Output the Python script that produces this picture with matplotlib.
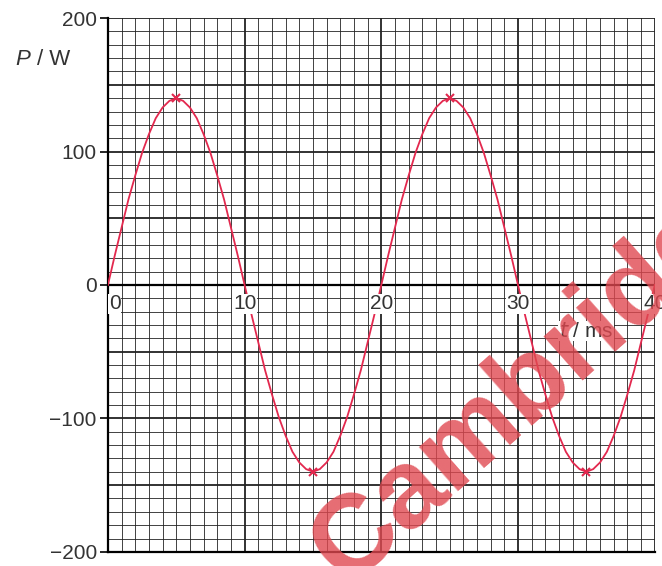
import matplotlib.pyplot as plt
import numpy as np

plt.rcParams['font.family'] = ['Liberation Sans', 'DejaVu Sans']

# data (t in ms, P in W), every 0.5 ms
t_ms = np.arange(0, 40.5, 0.5)
p_w = [0, 22, 43, 64, 82, 99, 113, 125, 133, 138, 140, 138, 133, 125, 113, 99, 82, 64, 43, 22,
       0, -22, -43, -64, -82, -99, -113, -125, -133, -138, -140, -138, -133, -125, -113, -99, -82, -64, -43, -22,
       0, 22, 43, 64, 82, 99, 113, 125, 133, 138, 140, 138, 133, 125, 113, 99, 82, 64, 43, 22,
       0, -22, -43, -64, -82, -99, -113, -125, -133, -138, -140, -138, -133, -125, -113, -99, -82, -64, -43, -22,
       0]
peak_t = [5, 15, 25, 35]
peak_p = [140, -140, 140, -140]
x_ticks = [0, 10, 20, 30, 40]
y_ticks = [200, 100, 0, -100, -200]

fig = plt.figure(figsize=(6.62, 5.66), dpi=100)
ax = fig.add_axes([0.163, 0.025, 0.826, 0.943])
ax.set_xlim(0, 40)
ax.set_ylim(-200, 200)

# graph paper
for x in range(0, 41):
    lw = 1.3 if x % 10 == 0 else 0.6
    ax.axvline(x, color='#222222', lw=lw, zorder=1)
for y in range(-200, 201, 10):
    lw = 1.3 if y % 50 == 0 else 0.6
    ax.axhline(y, color='#222222', lw=lw, zorder=1)
ax.axhline(0, color='black', lw=1.6, zorder=2)

# curve
ax.plot(t_ms, p_w, color='#e3284e', lw=1.3, zorder=4)
ax.plot(peak_t, peak_p, 'x', color='#e3284e', ms=6, mew=1.5, zorder=5)

for s in ['top', 'right']:
    ax.spines[s].set_visible(False)
ax.spines['left'].set_linewidth(1.6)
ax.spines['bottom'].set_linewidth(1.6)

ax.set_yticks(y_ticks)
ax.set_yticklabels(['200', '100', '0', '\u2212100', '\u2212200'], fontsize=15, color='#333333')
ax.tick_params(axis='y', length=6, width=1.2, pad=2)
ax.set_xticks([])

for x in x_ticks:
    ax.text(x + (0.5 if x == 0 else 0), -14, str(x), ha='center', va='center', fontsize=15,
            color='#333333', zorder=6,
            bbox=dict(facecolor='white', edgecolor='none', pad=0.5))

fig.text(0.035, 0.894, 'P', fontsize=16, style='italic', color='#333333', ha='center', va='center')
fig.text(0.056, 0.894, '/ W', fontsize=16, color='#333333', ha='left', va='center')
ax.text(35.0, -34.5, '$t$ / ms', fontsize=15, color='#333333', ha='center', va='center', zorder=6,
        bbox=dict(facecolor='white', edgecolor='none', pad=0.5))

# watermark
fig.text(0.822, 0.341, 'Cambridge', fontsize=80, fontweight='bold', color='#e04850', alpha=0.8,
         rotation=41.6, ha='center', va='center', zorder=10)

fig.savefig('out.png', dpi=100, facecolor='white')
